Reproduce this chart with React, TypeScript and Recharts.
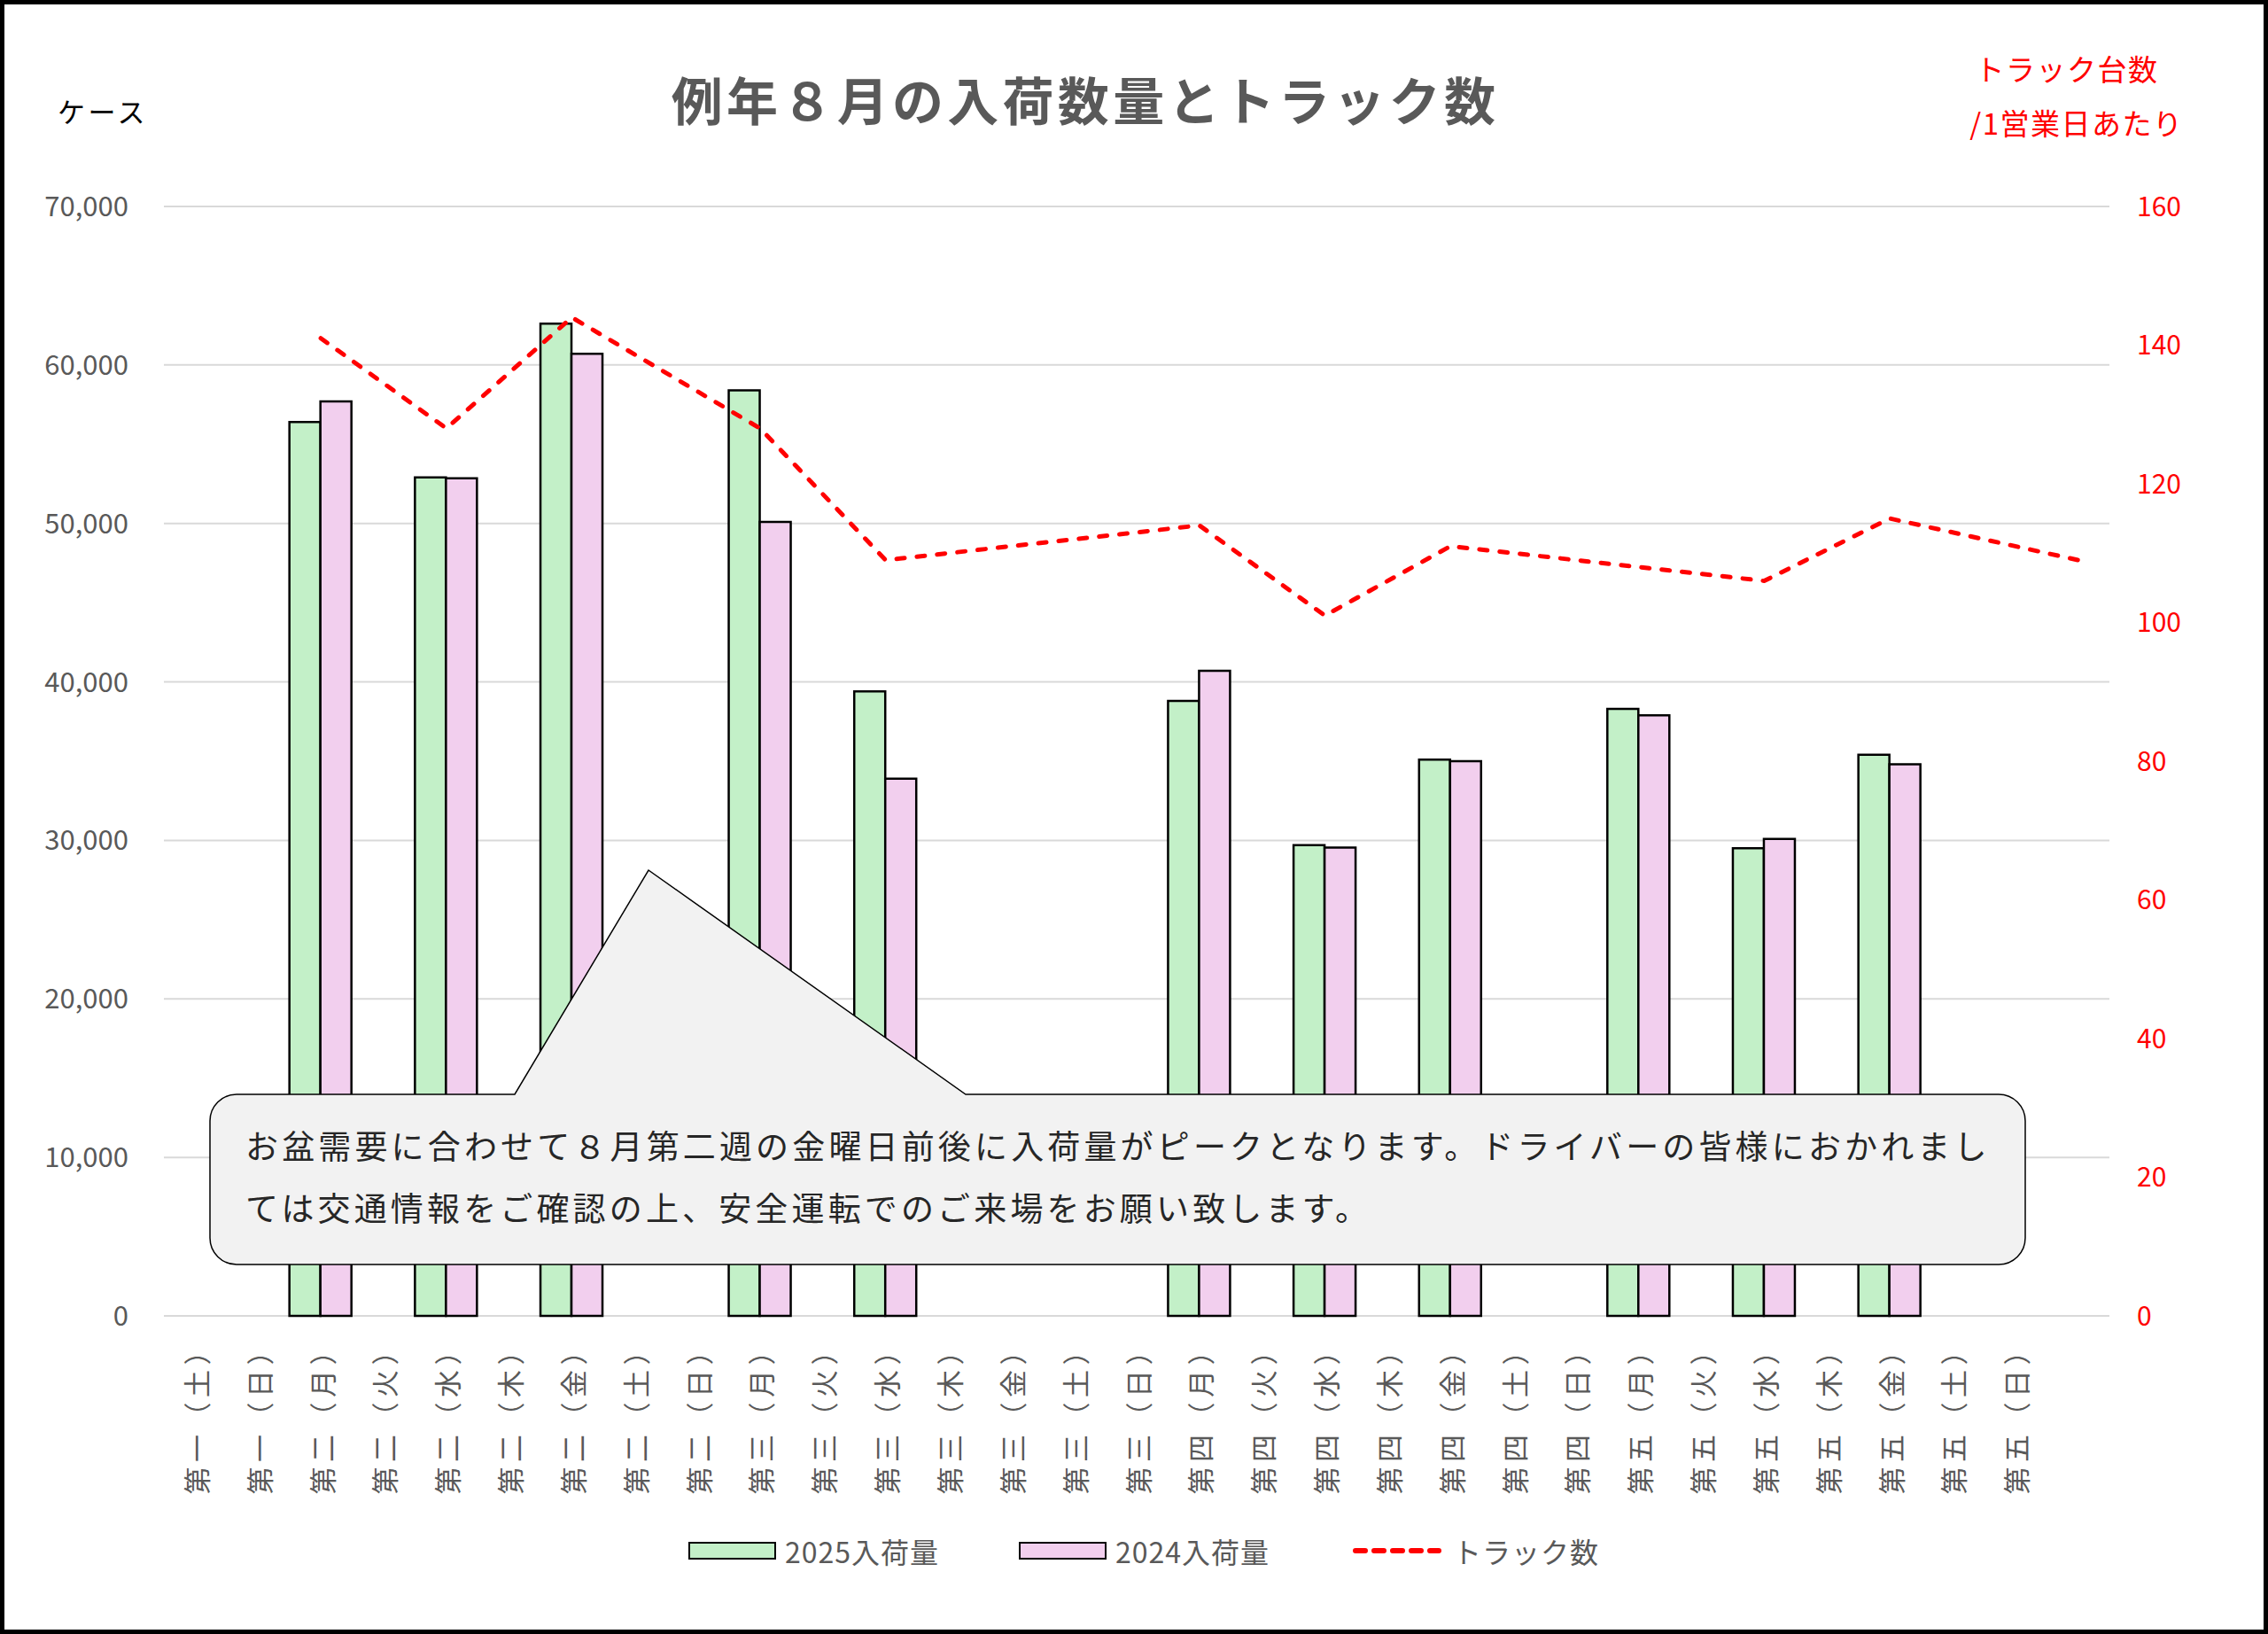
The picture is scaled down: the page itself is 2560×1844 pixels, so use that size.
import { ComposedChart, Bar, Line, XAxis, YAxis, CartesianGrid } from 'recharts';

const FONT = "'Noto Sans CJK JP', 'Noto Sans', sans-serif";
const GREEN = '#C3F0C8';
const PINK = '#F2CFEE';
const RED = '#FF0000';
const GRAY = '#595959';

// 31 slots on the category axis, the last one has no label
const categories = [
  '第一（土）', '第一（日）',
  '第二（月）', '第二（火）', '第二（水）', '第二（木）', '第二（金）', '第二（土）', '第二（日）',
  '第三（月）', '第三（火）', '第三（水）', '第三（木）', '第三（金）', '第三（土）', '第三（日）',
  '第四（月）', '第四（火）', '第四（水）', '第四（木）', '第四（金）', '第四（土）', '第四（日）',
  '第五（月）', '第五（火）', '第五（水）', '第五（木）', '第五（金）', '第五（土）', '第五（日）',
  '',
];

const arrivals2025 = [
  null, null,
  56400, null, 52900, null, 62600, null, null,
  58400, null, 39400, null, null, null, null,
  38800, null, 29700, null, 35100, null, null,
  38300, null, 29500, null, 35400, null, null,
  null,
];

const arrivals2024 = [
  null, null,
  57700, null, 52850, null, 60700, null, null,
  50100, null, 33900, null, null, null, null,
  40700, null, 29550, null, 35000, null, null,
  37900, null, 30100, null, 34800, null, null,
  null,
];

const trucks = [
  null, null,
  141, null, 128, null, 144, null, null,
  128, null, 109, null, null, null, null,
  114, null, 101, null, 111, null, null,
  108, null, 106, null, 115, null, null,
  109,
];

const leftTicks = [0, 10000, 20000, 30000, 40000, 50000, 60000, 70000];
const rightTicks = [0, 20, 40, 60, 80, 100, 120, 140, 160];

const data = categories.map((name, i) => ({
  name,
  a2025: arrivals2025[i],
  a2024: arrivals2024[i],
  trucks: trucks[i],
}));

function DayTick(props: any) {
  const { x, y, payload } = props;
  if (!payload.value) return null;
  return (
    <g transform={`translate(${x},${y + 19})`}>
      <text
        transform="rotate(-90)"
        textAnchor="end"
        dominantBaseline="central"
        fontSize={31}
        letterSpacing={5.5}
        fill={GRAY}
        fontFamily={FONT}
      >
        {payload.value}
      </text>
    </g>
  );
}

function Callout() {
  const x0 = 237, y0 = 1235, x1 = 2286, y1 = 1427, r = 30;
  const d = [
    `M ${x0 + r} ${y0}`,
    `L 581 ${y0} L 732 982 L 1090 ${y0}`,
    `L ${x1 - r} ${y0}`,
    `A ${r} ${r} 0 0 1 ${x1} ${y0 + r}`,
    `L ${x1} ${y1 - r}`,
    `A ${r} ${r} 0 0 1 ${x1 - r} ${y1}`,
    `L ${x0 + r} ${y1}`,
    `A ${r} ${r} 0 0 1 ${x0} ${y1 - r}`,
    `L ${x0} ${y0 + r}`,
    `A ${r} ${r} 0 0 1 ${x0 + r} ${y0}`,
    'Z',
  ].join(' ');
  return (
    <>
      <svg width={2560} height={1844} style={{ position: 'absolute', left: 0, top: 0 }}>
        <path d={d} fill="#F2F2F2" stroke="#000" strokeWidth={1.5} />
      </svg>
      <div
        style={{
          position: 'absolute',
          left: 277,
          top: 1257,
          fontSize: 37,
          lineHeight: '70px',
          letterSpacing: 4.15,
          color: '#262626',
          whiteSpace: 'nowrap',
        }}
      >
        <div>お盆需要に合わせて８月第二週の金曜日前後に入荷量がピークとなります。ドライバーの皆様におかれまし</div>
        <div>ては交通情報をご確認の上、安全運転でのご来場をお願い致します。</div>
      </div>
    </>
  );
}

function LegendRow() {
  const text = { fontSize: 32, color: GRAY, letterSpacing: 1, lineHeight: '40px' };
  return (
    <>
      <div style={{ position: 'absolute', left: 777, top: 1730, display: 'flex', alignItems: 'center', gap: 10 }}>
        <div style={{ width: 95, height: 16, background: GREEN, border: '2.5px solid #000' }} />
        <span style={text}>2025入荷量</span>
      </div>
      <div style={{ position: 'absolute', left: 1150, top: 1730, display: 'flex', alignItems: 'center', gap: 10 }}>
        <div style={{ width: 95, height: 16, background: PINK, border: '2.5px solid #000' }} />
        <span style={text}>2024入荷量</span>
      </div>
      <div style={{ position: 'absolute', left: 1526, top: 1730, display: 'flex', alignItems: 'center', gap: 12 }}>
        <svg width={102} height={12}>
          <line x1={4} y1={6} x2={98} y2={6} stroke={RED} strokeWidth={6} strokeDasharray="11 10" strokeLinecap="round" />
        </svg>
        <span style={text}>トラック数</span>
      </div>
    </>
  );
}

export default function App() {
  const redNote = {
    position: 'absolute' as const,
    width: 300,
    textAlign: 'center' as const,
    fontSize: 33,
    lineHeight: '61px',
    color: RED,
    letterSpacing: 1.5,
  };
  return (
    <div
      style={{
        position: 'absolute',
        left: 0,
        top: 0,
        width: 2560,
        height: 1844,
        background: '#fff',
        fontFamily: FONT,
        overflow: 'hidden',
      }}
    >
      <ComposedChart
        width={2560}
        height={1844}
        data={data}
        margin={{ top: 233, right: 79, bottom: 159, left: 85 }}
        barCategoryGap={0}
        barGap={0}
      >
        <CartesianGrid yAxisId="left" vertical={false} stroke="#D9D9D9" strokeWidth={2} />
        <XAxis
          dataKey="name"
          interval={0}
          axisLine={false}
          tickLine={false}
          tickSize={0}
          tickMargin={0}
          height={200}
          tick={<DayTick />}
        />
        <YAxis
          yAxisId="left"
          width={100}
          domain={[0, 70000]}
          ticks={leftTicks}
          axisLine={false}
          tickLine={false}
          tickSize={0}
          tickMargin={40}
          tickFormatter={(v: number) => v.toLocaleString('en-US')}
          tick={{ fontSize: 31, fill: GRAY, fontFamily: FONT }}
        />
        <YAxis
          yAxisId="right"
          orientation="right"
          width={100}
          domain={[0, 160]}
          ticks={rightTicks}
          axisLine={false}
          tickLine={false}
          tickSize={0}
          tickMargin={31}
          tick={{ fontSize: 30, fill: RED, fontFamily: FONT, textAnchor: 'start' }}
        />
        <Bar yAxisId="left" dataKey="a2025" fill={GREEN} stroke="#000" strokeWidth={2.5} isAnimationActive={false} />
        <Bar yAxisId="left" dataKey="a2024" fill={PINK} stroke="#000" strokeWidth={2.5} isAnimationActive={false} />
        <Line
          yAxisId="right"
          type="linear"
          dataKey="trucks"
          stroke={RED}
          strokeWidth={5}
          strokeDasharray="9 14"
          strokeLinecap="round"
          strokeLinejoin="round"
          dot={false}
          activeDot={false}
          connectNulls
          isAnimationActive={false}
        />
      </ComposedChart>

      <div
        style={{
          position: 'absolute',
          left: 0,
          width: 2450,
          top: 73,
          textAlign: 'center',
          fontSize: 58,
          fontWeight: 700,
          letterSpacing: 4.3,
          color: GRAY,
          lineHeight: '76px',
        }}
      >
        例年８月の入荷数量とトラック数
      </div>
      <div style={{ position: 'absolute', left: 65, top: 105, fontSize: 31, lineHeight: '40px', color: '#000', letterSpacing: 3.5 }}>
        ケース
      </div>
      <div style={{ ...redNote, left: 2183, top: 47 }}>トラック台数</div>
      <div style={{ ...redNote, left: 2194, top: 108 }}>/1営業日あたり</div>

      <Callout />
      <LegendRow />

      <div
        style={{
          position: 'absolute',
          left: 0,
          top: 0,
          width: 2560,
          height: 1844,
          boxSizing: 'border-box',
          border: '5px solid #000',
          pointerEvents: 'none',
        }}
      />
    </div>
  );
}
